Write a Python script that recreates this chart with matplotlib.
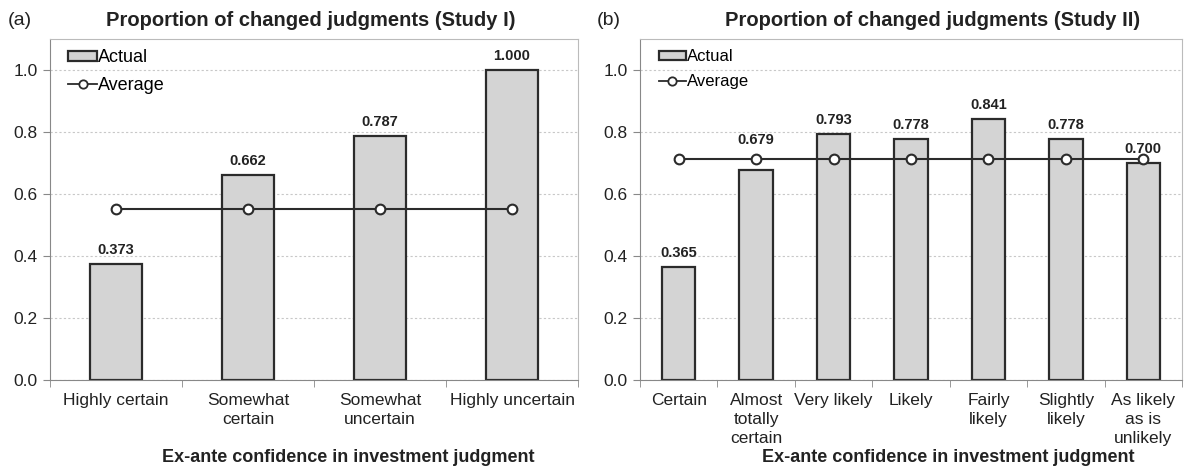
import numpy as np
import matplotlib
matplotlib.use('Agg')
import matplotlib.pyplot as plt
from matplotlib.patches import Patch
from matplotlib.lines import Line2D

plt.rcParams['font.family'] = ['Liberation Sans', 'DejaVu Sans']

# ===== DATA =====
cats_1 = ['Highly certain', 'Somewhat\ncertain', 'Somewhat\nuncertain', 'Highly uncertain']
actual_1 = [0.373, 0.662, 0.787, 1.000]
average_1 = [0.55, 0.55, 0.55, 0.55]

cats_2 = ['Certain', 'Almost\ntotally\ncertain', 'Very likely', 'Likely',
          'Fairly\nlikely', 'Slightly\nlikely', 'As likely\nas is\nunlikely']
actual_2 = [0.365, 0.679, 0.793, 0.778, 0.841, 0.778, 0.700]
average_2 = [0.712] * 7

titles = ['Proportion of changed judgments (Study I)',
          'Proportion of changed judgments (Study II)']
panel_tags = ['(a)', '(b)']
xlabel_txt = 'Ex-ante confidence in investment judgment'
yticks = [0.0, 0.2, 0.4, 0.6, 0.8, 1.0]

BAR_FILL = '#d4d4d4'
DARK = '#2b2b2b'
TEXT = '#222222'

W, H = 1184, 469
fig = plt.figure(figsize=(W / 100, H / 100), dpi=100)
# axes boxes in pixels (left, right, top, bottom)
ax1 = fig.add_axes([50 / W, 1 - 380 / H, 528 / W, 341 / H])
ax2 = fig.add_axes([640 / W, 1 - 380 / H, 542 / W, 341 / H])


def draw_panel(ax, cats, actual, average, title, tag, bar_w,
               title_x, xlabel_x, leg_size, label_lift=None):
    label_lift = label_lift or {}
    x = np.arange(len(cats))
    ax.bar(x, actual, width=bar_w, color=BAR_FILL, edgecolor=DARK, linewidth=1.6, zorder=2)
    ax.plot(x, average, color=DARK, lw=1.5, marker='o', ms=7,
            mfc='white', mec=DARK, mew=1.5, zorder=3)
    for i, (xi, v) in enumerate(zip(x, actual)):
        ax.annotate(f'{v:.3f}', (xi, v), xytext=(0, 5 + label_lift.get(i, 0)),
                    textcoords='offset points', ha='center', va='bottom',
                    fontsize=10.5, fontweight='bold', color=TEXT, zorder=4)

    ax.set_xlim(-0.5, len(cats) - 0.5)
    ax.set_ylim(0, 1.1)
    ax.set_yticks(yticks)
    ax.set_yticklabels([f'{t:.1f}' for t in yticks], fontsize=12.5, color=TEXT)
    ax.yaxis.grid(True, ls=(0, (2, 2)), color='#c8c8c8', lw=0.8, zorder=0)
    ax.set_axisbelow(True)

    # category labels at centers, tick marks at boundaries
    ax.set_xticks(x)
    ax.set_xticklabels(cats, fontsize=12.5, color=TEXT, linespacing=1.35)
    ax.tick_params(axis='x', which='major', length=0, pad=9)
    ax.set_xticks(np.arange(len(cats) + 1) - 0.5, minor=True)
    ax.tick_params(axis='x', which='minor', length=5, color='#888888')
    ax.tick_params(axis='y', length=5, color='#888888', pad=4)

    for s in ['left', 'bottom']:
        ax.spines[s].set_color('#888888')
    for s in ['top', 'right']:
        ax.spines[s].set_color('#bbbbbb')

    ax.set_title(title, fontsize=14.5, fontweight='bold', color=TEXT, pad=9, x=title_x)
    ax.set_xlabel(xlabel_txt, fontsize=13, fontweight='bold', color=TEXT)
    ax.xaxis.label.set_va('center')
    ax.xaxis.set_label_coords(xlabel_x, -0.226)

    handles = [Patch(facecolor=BAR_FILL, edgecolor=DARK, linewidth=1.6),
               Line2D([0], [0], color=DARK, lw=1.3, marker='o', ms=6,
                      mfc='white', mec=DARK, mew=1.3)]
    ax.legend(handles, ['Actual', 'Average'], loc='upper left', frameon=False,
              fontsize=leg_size, handlelength=1.6, handleheight=0.45,
              handletextpad=0.05, labelspacing=0.6, borderpad=0,
              borderaxespad=0, bbox_to_anchor=(0.035, 0.97))

    ax.text(-0.08, 1.055, tag, transform=ax.transAxes, fontsize=14, color=TEXT,
            ha='left', va='center')


draw_panel(ax1, cats_1, actual_1, average_1, titles[0], panel_tags[0], 0.4,
           title_x=0.494, xlabel_x=0.564, leg_size=13)
draw_panel(ax2, cats_2, actual_2, average_2, titles[1], panel_tags[1], 0.43,
           title_x=0.54, xlabel_x=0.568, leg_size=12, label_lift={1: 11})

plt.savefig('out.png', dpi=100)
plt.close()
